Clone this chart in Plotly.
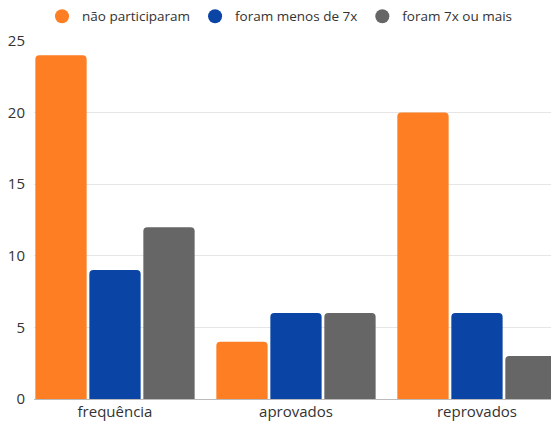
import plotly.graph_objects as go

categories = ["frequência", "aprovados", "reprovados"]
series_names = ["não participaram", "foram menos de 7x", "foram 7x ou mais"]
nao_participaram = [24, 4, 20]
menos_de_7x = [9, 6, 6]
mais_de_7x = [12, 6, 3]
colors = ["#FD7E23", "#0A45A5", "#666666"]
y_ticks = [0, 5, 10, 15, 20, 25]

fig = go.Figure()
for name, vals, col in zip(series_names, [nao_participaram, menos_de_7x, mais_de_7x], colors):
    fig.add_trace(go.Bar(x=categories, y=vals, name=name, marker=dict(color=col, line=dict(width=0)),
                         showlegend=False, hoverinfo="y"))
for name, col in zip(series_names, colors):
    fig.add_trace(go.Scatter(x=[None], y=[None], mode="markers", name=name,
                             marker=dict(color=col, size=14, symbol="circle")))

fig.update_layout(
    width=551, height=423,
    margin=dict(l=34, r=0, t=41, b=24, autoexpand=False),
    paper_bgcolor="white", plot_bgcolor="white",
    font=dict(family="Open Sans", size=14, color="#333333"),
    barmode="group", bargap=0.105, bargroupgap=0.05, barcornerradius=4,
    legend=dict(orientation="h", x=0.0155, xanchor="left", y=1.112, yanchor="top",
                font=dict(size=13.5, color="#333333"), traceorder="normal"),
    xaxis=dict(type="category", range=[-0.4475, 2.409], showgrid=False, ticks="",
               showline=False, tickfont=dict(size=15), automargin=False,
               ticklabelstandoff=2),
    yaxis=dict(range=[0, 25], tickvals=y_ticks, showgrid=True, gridcolor="#E6E6E6",
               zeroline=True, zerolinecolor="#BBBBBB", zerolinewidth=1, ticks="",
               tickfont=dict(size=15), automargin=False, ticklabelstandoff=8),
)
fig.write_html("out.html", config={"displayModeBar": False},
               post_script="document.body.style.margin='0';")
